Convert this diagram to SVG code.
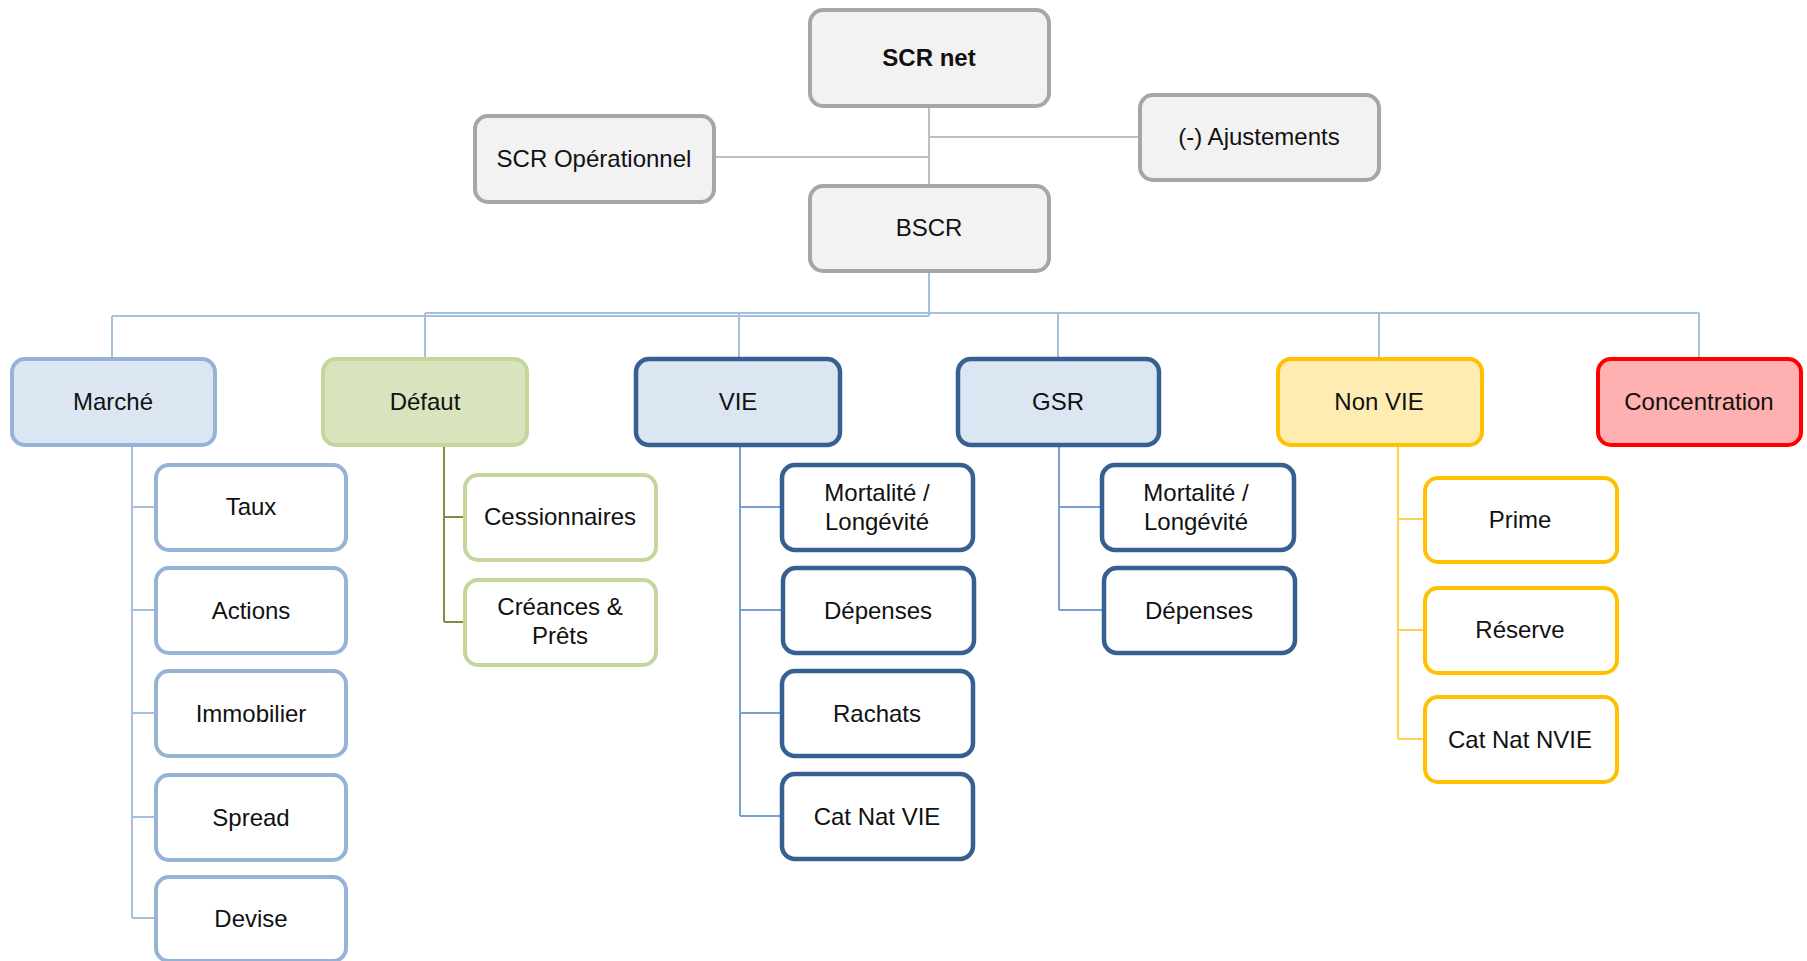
<svg xmlns="http://www.w3.org/2000/svg" width="1807" height="961" viewBox="0 0 1807 961">
<style>
text{font-family:"Liberation Sans",Arial,sans-serif;font-size:24px;fill:#111;text-anchor:middle}
.b{font-weight:bold}
rect{stroke-width:4}
.gray{fill:#f2f2f2;stroke:#a6a6a6}
.lb{fill:#dce6f2;stroke:#95b3d7}
.lbc{fill:#fff;stroke:#95b3d7}
.gr{fill:#d7e4bd;stroke:#c3d69b}
.grc{fill:#fff;stroke:#c3d69b}
.db{fill:#dce6f2;stroke:#376092;stroke-width:4.5}
.dbc{fill:#fff;stroke:#376092;stroke-width:4.5}
.ye{fill:#ffecb3;stroke:#ffc000}
.yec{fill:#fff;stroke:#ffc000}
.re{fill:#ffb0b0;stroke:#ff0000}
.c line{stroke-width:2;fill:none}
.cg{stroke:#bfbfbf}
.cb{stroke:#a5bfdf}
.cgr{stroke:#77933c}
.cdb{stroke:#7ba0cd}
.cy{stroke:#ffd34d}
</style>
<g id="connectors" class="c">
<line class="cg" x1="929" y1="106" x2="929" y2="186"/>
<line class="cg" x1="714" y1="157" x2="929" y2="157"/>
<line class="cg" x1="929" y1="137" x2="1140" y2="137"/>
<line class="cb" x1="929" y1="271" x2="929" y2="316"/>
<line class="cb" x1="112" y1="316" x2="929" y2="316"/>
<line class="cb" x1="425" y1="313" x2="1699" y2="313"/>
<line class="cb" x1="112" y1="316" x2="112" y2="358"/>
<line class="cb" x1="425" y1="313" x2="425" y2="358"/>
<line class="cb" x1="739" y1="313" x2="739" y2="358"/>
<line class="cb" x1="1058" y1="313" x2="1058" y2="358"/>
<line class="cb" x1="1379" y1="313" x2="1379" y2="358"/>
<line class="cb" x1="1699" y1="313" x2="1699" y2="358"/>
<line class="cb" x1="132" y1="445" x2="132" y2="918"/>
<line class="cb" x1="132" y1="507" x2="156" y2="507"/>
<line class="cb" x1="132" y1="610" x2="156" y2="610"/>
<line class="cb" x1="132" y1="713" x2="156" y2="713"/>
<line class="cb" x1="132" y1="817" x2="156" y2="817"/>
<line class="cb" x1="132" y1="918" x2="156" y2="918"/>
<line class="cgr" x1="444" y1="445" x2="444" y2="622"/>
<line class="cgr" x1="444" y1="517" x2="464" y2="517"/>
<line class="cgr" x1="444" y1="622" x2="464" y2="622"/>
<line class="cdb" x1="740" y1="445" x2="740" y2="816"/>
<line class="cdb" x1="740" y1="507" x2="782" y2="507"/>
<line class="cdb" x1="740" y1="610" x2="782" y2="610"/>
<line class="cdb" x1="740" y1="713" x2="782" y2="713"/>
<line class="cdb" x1="740" y1="816" x2="782" y2="816"/>
<line class="cdb" x1="1059" y1="445" x2="1059" y2="610"/>
<line class="cdb" x1="1059" y1="507" x2="1102" y2="507"/>
<line class="cdb" x1="1059" y1="610" x2="1102" y2="610"/>
<line class="cy" x1="1398" y1="445" x2="1398" y2="739"/>
<line class="cy" x1="1398" y1="519" x2="1424" y2="519"/>
<line class="cy" x1="1398" y1="630" x2="1424" y2="630"/>
<line class="cy" x1="1398" y1="739" x2="1424" y2="739"/>
</g>
<g id="scr-net"><rect class="gray" x="810" y="10" width="239" height="96" rx="13"/><text class="b" x="929" y="66">SCR net</text></g>
<g id="scr-op"><rect class="gray" x="475" y="116" width="239" height="86" rx="13"/><text x="594" y="167">SCR Opérationnel</text></g>
<g id="ajust"><rect class="gray" x="1140" y="95" width="239" height="85" rx="13"/><text x="1259" y="145">(-) Ajustements</text></g>
<g id="bscr"><rect class="gray" x="810" y="186" width="239" height="85" rx="13"/><text x="929" y="236">BSCR</text></g>
<g id="marche"><rect class="lb" x="12" y="359" width="203" height="86" rx="13"/><text x="113" y="410">Marché</text></g>
<g id="defaut"><rect class="gr" x="323" y="359" width="204" height="86" rx="13"/><text x="425" y="410">Défaut</text></g>
<g id="vie"><rect class="db" x="636" y="359" width="204" height="86" rx="13"/><text x="738" y="410">VIE</text></g>
<g id="gsr"><rect class="db" x="958" y="359" width="201" height="86" rx="13"/><text x="1058" y="410">GSR</text></g>
<g id="nonvie"><rect class="ye" x="1278" y="359" width="204" height="86" rx="13"/><text x="1379" y="410">Non VIE</text></g>
<g id="concentration"><rect class="re" x="1598" y="359" width="203" height="86" rx="13"/><text x="1699" y="410">Concentration</text></g>
<g id="taux"><rect class="lbc" x="156" y="465" width="190" height="85" rx="13"/><text x="251" y="515">Taux</text></g>
<g id="actions"><rect class="lbc" x="156" y="568" width="190" height="85" rx="13"/><text x="251" y="619">Actions</text></g>
<g id="immobilier"><rect class="lbc" x="156" y="671" width="190" height="85" rx="13"/><text x="251" y="722">Immobilier</text></g>
<g id="spread"><rect class="lbc" x="156" y="775" width="190" height="85" rx="13"/><text x="251" y="826">Spread</text></g>
<g id="devise"><rect class="lbc" x="156" y="877" width="190" height="84" rx="13"/><text x="251" y="927">Devise</text></g>
<g id="cessionnaires"><rect class="grc" x="465" y="475" width="191" height="85" rx="13"/><text x="560" y="525">Cessionnaires</text></g>
<g id="creances"><rect class="grc" x="465" y="580" width="191" height="85" rx="13"/><text x="560" y="615">Créances &amp;</text><text x="560" y="644">Prêts</text></g>
<g id="vie-mort"><rect class="dbc" x="782" y="465" width="191" height="85" rx="13"/><text x="877" y="501">Mortalité /</text><text x="877" y="530">Longévité</text></g>
<g id="vie-dep"><rect class="dbc" x="783" y="568" width="191" height="85" rx="13"/><text x="878" y="619">Dépenses</text></g>
<g id="vie-rach"><rect class="dbc" x="782" y="671" width="191" height="85" rx="13"/><text x="877" y="722">Rachats</text></g>
<g id="vie-cat"><rect class="dbc" x="782" y="774" width="191" height="85" rx="13"/><text x="877" y="825">Cat Nat VIE</text></g>
<g id="gsr-mort"><rect class="dbc" x="1102" y="465" width="192" height="85" rx="13"/><text x="1196" y="501">Mortalité /</text><text x="1196" y="530">Longévité</text></g>
<g id="gsr-dep"><rect class="dbc" x="1104" y="568" width="191" height="85" rx="13"/><text x="1199" y="619">Dépenses</text></g>
<g id="prime"><rect class="yec" x="1425" y="478" width="192" height="84" rx="13"/><text x="1520" y="528">Prime</text></g>
<g id="reserve"><rect class="yec" x="1425" y="588" width="192" height="85" rx="13"/><text x="1520" y="638">Réserve</text></g>
<g id="catnvie"><rect class="yec" x="1425" y="697" width="192" height="85" rx="13"/><text x="1520" y="748">Cat Nat NVIE</text></g>
</svg>
